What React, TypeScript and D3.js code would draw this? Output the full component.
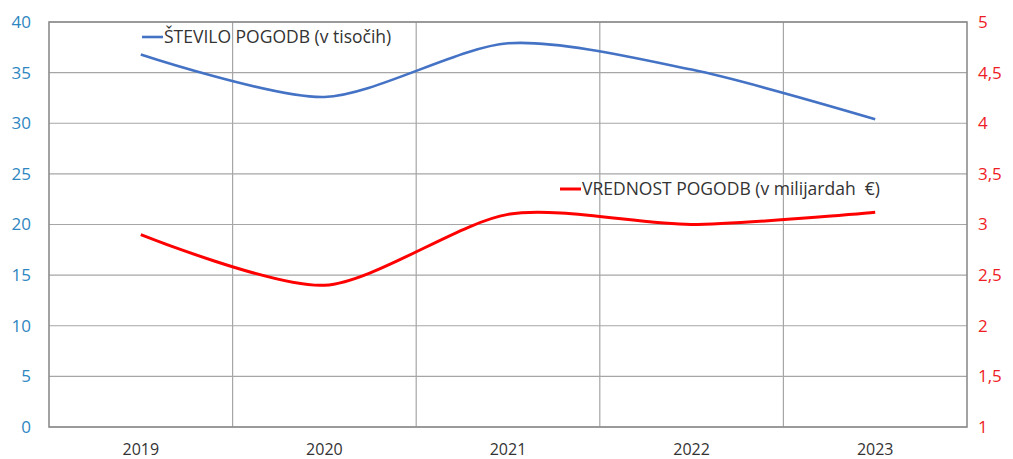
import React from 'react';
import * as d3 from 'd3';

// chart data
const years = ['2019', '2020', '2021', '2022', '2023'];
const contractCount = [36.8, 32.6, 37.9, 35.3, 30.4]; // thousands
const contractValue = [2.9, 2.4, 3.1, 3.0, 3.12]; // billions €
const leftTicks = [0, 5, 10, 15, 20, 25, 30, 35, 40];
const rightTicks = [1, 1.5, 2, 2.5, 3, 3.5, 4, 4.5, 5];

const W = 1013;
const H = 459;
const margin = { top: 22, right: 46, bottom: 32, left: 49 };
const FONT = '"Open Sans", "Noto Sans", sans-serif';

export default function App() {
  const x0 = margin.left;
  const x1 = W - margin.right;
  const y0 = H - margin.bottom;
  const y1 = margin.top;

  const xBand = d3.scaleBand<string>().domain(years).range([x0, x1]);
  const xc = (d: string) => (xBand(d) ?? 0) + xBand.bandwidth() / 2;
  const yLeft = d3.scaleLinear().domain([0, 40]).range([y0, y1]);
  const yRight = d3.scaleLinear().domain([1, 5]).range([y0, y1]);

  const curve = d3.curveCardinal.tension(0.2);
  const blueLine = d3.line<number>()
    .x((_, i) => xc(years[i]))
    .y(d => yLeft(d))
    .curve(curve);
  const redLine = d3.line<number>()
    .x((_, i) => xc(years[i]))
    .y(d => yRight(d))
    .curve(curve);

  return (
    <svg width={W} height={H} style={{ position: 'absolute', left: 0, top: 0, background: '#fff' }} fontFamily={FONT}>
      {/* horizontal grid */}
      {leftTicks.map(t => (
        <line key={'h' + t} x1={x0} x2={x1} y1={yLeft(t)} y2={yLeft(t)} stroke="#a6a6a6" strokeWidth={1.2} />
      ))}
      {/* vertical grid at band boundaries */}
      {years.slice(1).map(y => (
        <line key={'v' + y} x1={xBand(y)} x2={xBand(y)} y1={y1} y2={y0} stroke="#a6a6a6" strokeWidth={1.2} />
      ))}
      {/* frame */}
      <rect x={x0} y={y1} width={x1 - x0} height={y0 - y1} fill="none" stroke="#8c8c8c" strokeWidth={1.6} />

      {/* left axis labels */}
      {leftTicks.map(t => (
        <text key={'l' + t} x={31} y={yLeft(t)} dy="0.35em" textAnchor="end" fontSize={17} fill="#2e86c1">
          {t}
        </text>
      ))}
      {/* right axis labels */}
      {rightTicks.map(t => (
        <text key={'r' + t} x={978} y={yRight(t)} dy="0.35em" textAnchor="start" fontSize={17} fill="#ee1c25">
          {String(t).replace('.', ',')}
        </text>
      ))}
      {/* category labels */}
      {years.map(y => (
        <text key={'x' + y} x={xc(y)} y={455} textAnchor="middle" fontSize={16} fill="#333">
          {y}
        </text>
      ))}

      <path d={blueLine(contractCount) ?? ''} fill="none" stroke="#4472c4" strokeWidth={2.6} />
      <path d={redLine(contractValue) ?? ''} fill="none" stroke="#ff0000" strokeWidth={3} />

      {/* legends */}
      <line x1={142} x2={163} y1={37} y2={37} stroke="#4472c4" strokeWidth={2.6} />
      <text x={164} y={37} dy="0.35em" fontSize={17.5} fill="#333">ŠTEVILO POGODB (v tisočih)</text>
      <line x1={560} x2={581} y1={189} y2={189} stroke="#ff0000" strokeWidth={3} />
      <text x={582} y={189} dy="0.35em" fontSize={17.5} fill="#333" style={{ whiteSpace: 'pre' }}>
        {'VREDNOST POGODB (v milijardah  €)'}
      </text>
    </svg>
  );
}
